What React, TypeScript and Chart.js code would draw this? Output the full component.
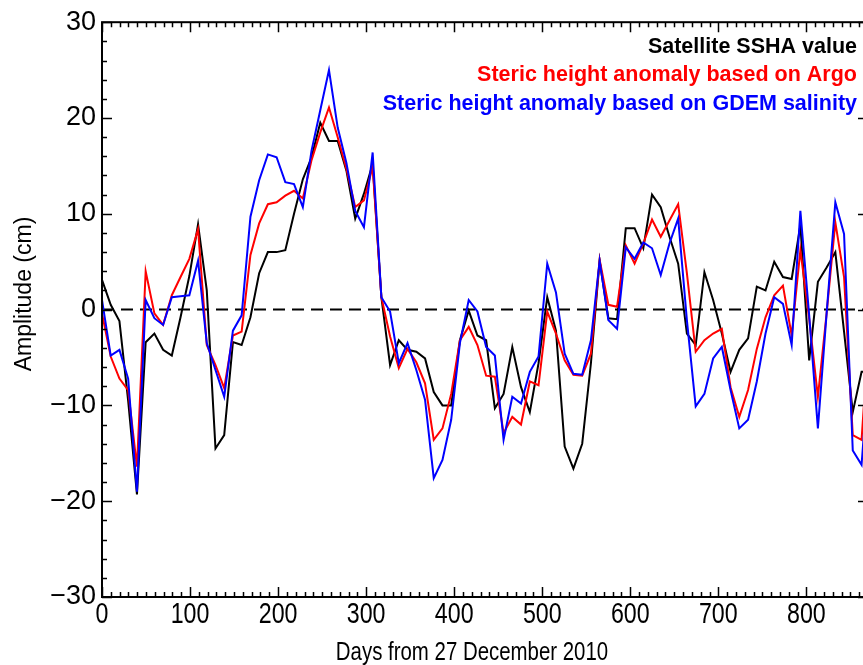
import { useEffect, useRef } from 'react';
import { Chart, registerables } from 'chart.js';

Chart.register(...registerables);

// Days from 27 December 2010 (one sample per ~9.9-day altimeter cycle)
const days = [
  0, 9.9, 19.8, 29.7, 39.7, 49.6, 59.5, 69.4, 79.3, 89.2,
  99.2, 109.1, 119.0, 128.9, 138.8, 148.7, 158.6, 168.6, 178.5, 188.4,
  198.3, 208.2, 218.1, 228.1, 238.0, 247.9, 257.8, 267.7, 277.6, 287.6,
  297.5, 307.4, 317.3, 327.2, 337.1, 347.0, 357.0, 366.9, 376.8, 386.7,
  396.6, 406.5, 416.5, 426.4, 436.3, 446.2, 456.1, 466.0, 475.9, 485.9,
  495.8, 505.7, 515.6, 525.5, 535.4, 545.4, 555.3, 565.2, 575.1, 585.0,
  594.9, 604.9, 614.8, 624.7, 634.6, 644.5, 654.4, 664.3, 674.3, 684.2,
  694.1, 704.0, 713.9, 723.8, 733.8, 743.7, 753.6, 763.5, 773.4, 783.3,
  793.2, 803.2, 813.1, 823.0, 832.9, 842.8, 852.7, 862.7, 872.6,
];

const sshaValues = [
  3.1, 0.5, -1.2, -9.5, -19.3, -3.4, -2.5, -4.2, -4.8, -0.8,
  3.5, 8.9, 2.0, -14.5, -13.1, -3.4, -3.7, -0.8, 3.8, 6.0,
  6.0, 6.2, 10.0, 13.6, 15.9, 19.5, 17.6, 17.6, 14.5, 9.5,
  12.1, 15.2, 1.3, -5.8, -3.2, -4.2, -4.4, -5.1, -8.6, -10.0,
  -10.0, -3.2, -0.1, -2.7, -3.2, -10.3, -8.8, -3.9, -8.1, -10.7,
  -5.6, 1.3, -2.2, -14.3, -16.6, -14.0, -5.6, 5.1, -0.9, -1.0,
  8.5, 8.5, 6.4, 12.0, 10.7, 7.6, 4.8, -2.5, -3.7, 3.9,
  1.0, -2.5, -6.5, -4.2, -3.0, 2.4, 2.0, 5.0, 3.4, 3.2,
  8.8, -5.3, 2.9, 4.4, 6.0, -2.3, -10.7, -6.5, -6.5,
];

const argoValues = [
  -0.4, -4.9, -7.2, -8.4, -16.4, 4.0, -0.4, -1.6, 1.5, 3.4,
  5.3, 8.4, -3.7, -5.8, -8.2, -2.7, -2.3, 5.7, 9.0, 11.0,
  11.2, 11.9, 12.4, 11.6, 15.6, 18.5, 21.1, 18.0, 14.7, 10.7,
  11.4, 14.9, 1.3, -2.8, -6.1, -4.1, -5.5, -7.7, -13.6, -12.4,
  -8.8, -3.2, -1.8, -3.7, -6.9, -7.0, -12.9, -11.2, -12.0, -7.5,
  -7.9, -0.2, -2.5, -5.3, -6.8, -6.9, -4.6, 5.2, 0.5, 0.3,
  6.7, 4.8, 6.9, 9.4, 7.6, 9.3, 11.0, 3.8, -4.4, -3.2,
  -2.5, -2.0, -8.1, -11.2, -8.4, -4.1, -0.8, 1.5, 2.5, -2.7,
  6.2, -1.0, -9.1, -0.4, 9.1, 3.4, -13.1, -13.6, 0.0,
];

const gdemValues = [
  1.0, -4.8, -4.2, -7.2, -19.0, 1.0, -0.9, -1.6, 1.3, 1.4,
  1.5, 5.1, -3.5, -6.3, -9.1, -2.2, -0.6, 9.7, 13.5, 16.2,
  15.9, 13.3, 13.1, 10.7, 16.6, 20.8, 25.0, 19.0, 15.3, 10.3,
  8.6, 16.4, 1.3, -0.2, -5.6, -3.5, -6.3, -9.4, -17.6, -15.7,
  -11.5, -3.5, 1.0, -0.2, -3.9, -4.8, -13.6, -9.1, -9.8, -6.5,
  -4.9, 4.8, 1.8, -4.6, -6.7, -6.8, -3.2, 5.1, -1.1, -2.0,
  6.5, 5.3, 7.0, 6.4, 3.6, 6.9, 9.5, -1.1, -10.1, -8.8,
  -5.1, -3.9, -8.4, -12.4, -11.5, -7.5, -2.5, 1.3, 0.6, -3.7,
  10.3, -0.6, -12.4, -0.4, 11.2, 7.9, -14.7, -16.2, -4.0,
];

const xTicks = [0, 100, 200, 300, 400, 500, 600, 700, 800];
const yTicks = [-30, -20, -10, 0, 10, 20, 30];
const xRange = [0, 870];
const yRange = [-30, 30];
const xMinorStep = 10;
const yMinorStep = 2;

const seriesLabels = [
  'Satellite SSHA value',
  'Steric height anomaly based on Argo',
  'Steric height anomaly based on GDEM salinity',
];
const seriesColors = ['#000000', '#ff0000', '#0000ff'];
const xTitle = 'Days from 27 December 2010';
const yTitle = 'Amplitude (cm)';

const fmt = (v: number) => (v < 0 ? '\u2212' + Math.abs(v) : String(v));

const pts = (vals: number[]) => vals.map((v, i) => ({ x: days[i], y: v }));

const SANS = '"Liberation Sans", Arial, Helvetica, sans-serif';

const decorPlugin = {
  id: 'decor',
  beforeDatasetsDraw(chart: any) {
    const { ctx, chartArea: a, scales } = chart;
    const py = scales.y.getPixelForValue(0);
    ctx.save();
    ctx.beginPath();
    ctx.rect(a.left, a.top, a.right - a.left, a.bottom - a.top);
    ctx.clip();
    ctx.setLineDash([12, 7]);
    ctx.lineWidth = 2;
    ctx.strokeStyle = '#000';
    ctx.beginPath();
    ctx.moveTo(a.left, py);
    ctx.lineTo(a.right, py);
    ctx.stroke();
    ctx.restore();
  },
  afterDatasetsDraw(chart: any) {
    const { ctx, chartArea: a, scales } = chart;
    const x = scales.x;
    const y = scales.y;
    ctx.save();
    ctx.strokeStyle = '#000';
    ctx.lineWidth = 2;
    ctx.strokeRect(a.left, a.top, a.right - a.left, a.bottom - a.top);
    ctx.lineWidth = 1.5;
    ctx.beginPath();
    for (let v = xRange[0]; v <= xRange[1]; v += xMinorStep) {
      const major = v % 100 === 0;
      const len = major ? 10 : 5;
      const px = Math.round(x.getPixelForValue(v)) + 0.5;
      ctx.moveTo(px, a.bottom);
      ctx.lineTo(px, a.bottom - len);
      ctx.moveTo(px, a.top);
      ctx.lineTo(px, a.top + len);
    }
    for (let v = yRange[0]; v <= yRange[1]; v += yMinorStep) {
      const major = v % 10 === 0;
      const len = major ? 10 : 5;
      const py = Math.round(y.getPixelForValue(v)) + 0.5;
      ctx.moveTo(a.left, py);
      ctx.lineTo(a.left + len, py);
      ctx.moveTo(a.right, py);
      ctx.lineTo(a.right - len, py);
    }
    ctx.stroke();
    ctx.restore();
  },
  afterDraw(chart: any) {
    const { ctx, chartArea: a, scales } = chart;
    ctx.save();
    ctx.fillStyle = '#000';
    // x tick labels (condensed, as in the original figure)
    ctx.font = '29px ' + SANS;
    ctx.textAlign = 'center';
    ctx.textBaseline = 'alphabetic';
    xTicks.forEach((v) => {
      const px = scales.x.getPixelForValue(v);
      ctx.save();
      ctx.translate(px, a.bottom + 26);
      ctx.scale(0.8, 1);
      ctx.fillText(fmt(v), 0, 0);
      ctx.restore();
    });
    // x title
    ctx.save();
    ctx.font = '26px ' + SANS;
    ctx.translate(472, 660);
    ctx.scale(0.785, 1);
    ctx.fillText(xTitle, 0, 0);
    ctx.restore();
    // y title
    ctx.save();
    ctx.translate(31, 294);
    ctx.rotate(-Math.PI / 2);
    ctx.font = '23px ' + SANS;
    ctx.fillText(yTitle, 0, 0);
    ctx.restore();
    // legend text
    ctx.font = 'bold 21.5px ' + SANS;
    ctx.textAlign = 'right';
    const baselines = [53, 81, 110];
    seriesLabels.forEach((t, i) => {
      ctx.fillStyle = seriesColors[i];
      ctx.fillText(t, 857, baselines[i]);
    });
    ctx.restore();
  },
};

export default function App() {
  const ref = useRef<HTMLCanvasElement | null>(null);
  useEffect(() => {
    if (!ref.current) return;
    const chart = new Chart(ref.current, {
      type: 'line',
      data: {
        datasets: [
          { label: seriesLabels[2], data: pts(gdemValues), borderColor: seriesColors[2], borderWidth: 2, pointRadius: 0, tension: 0, fill: false },
          { label: seriesLabels[1], data: pts(argoValues), borderColor: seriesColors[1], borderWidth: 2, pointRadius: 0, tension: 0, fill: false },
          { label: seriesLabels[0], data: pts(sshaValues), borderColor: seriesColors[0], borderWidth: 2, pointRadius: 0, tension: 0, fill: false },
        ],
      },
      options: {
        responsive: false,
        animation: false,
        devicePixelRatio: 1,
        layout: { padding: { left: 0, right: 12, top: 21, bottom: 0 } },
        plugins: { legend: { display: false }, tooltip: { enabled: false } },
        scales: {
          x: {
            type: 'linear',
            min: xRange[0],
            max: xRange[1],
            grid: { display: false, drawTicks: false },
            border: { display: false },
            afterBuildTicks: (s: any) => { s.ticks = xTicks.map((v) => ({ value: v })); },
            afterFit: (s: any) => { s.height = 68; },
            ticks: { display: false, includeBounds: false, autoSkip: false },
          },
          y: {
            type: 'linear',
            min: yRange[0],
            max: yRange[1],
            grid: { display: false, drawTicks: false },
            border: { display: false },
            afterBuildTicks: (s: any) => { s.ticks = yTicks.map((v) => ({ value: v })); },
            afterFit: (s: any) => { s.width = 102; },
            ticks: {
              autoSkip: false,
              padding: 6,
              color: '#000',
              font: { size: 27, family: SANS },
              callback: (v: any) => fmt(Number(v)),
            },
          },
        },
      },
      plugins: [decorPlugin],
    });
    return () => chart.destroy();
  }, []);
  return (
    <div style={{ position: 'fixed', left: 0, top: 0, width: 863, height: 665, overflow: 'hidden', background: '#fff' }}>
      <canvas ref={ref} width={880} height={665} style={{ display: 'block', width: 880, height: 665 }} />
    </div>
  );
}
